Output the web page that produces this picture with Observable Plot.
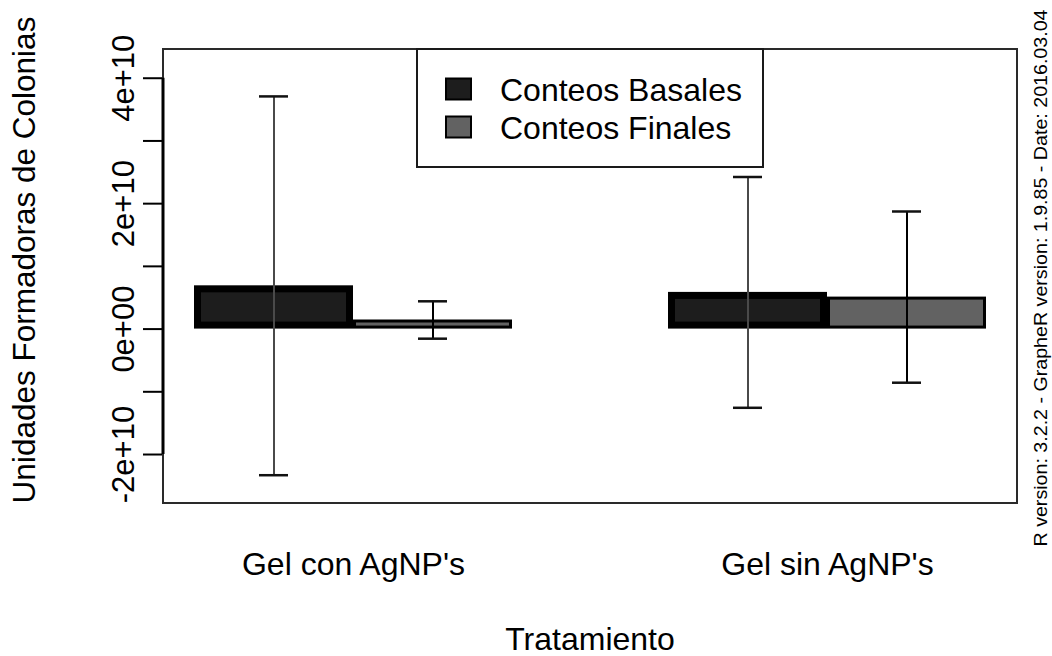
<!DOCTYPE html>
<html>
<head>
<meta charset="utf-8">
<script src="https://cdn.jsdelivr.net/npm/d3@7"></script>
<script src="https://cdn.jsdelivr.net/npm/@observablehq/plot@0.6"></script>
<style>
  html, body { margin: 0; padding: 0; background: #fff; }
  #chart { width: 1052px; height: 656px; }
</style>
</head>
<body>
<div id="chart"></div>
<script>
// ---- data ----
const groups = ["Gel con AgNP's", "Gel sin AgNP's"];
const series = ["Conteos Basales", "Conteos Finales"];
const basalMeans = [6.9e9, 5.85e9];
const finalMeans = [1.45e9, 5.1e9];
const basalErr = [3.02e10, 1.84e10];
const finalErr = [2.98e9, 1.365e10];
const yTicks = [-2e10, -1e10, 0, 1e10, 2e10, 3e10, 4e10];
const yTickLabels = ["-2e+10", "", "0e+00", "", "2e+10", "", "4e+10"];
const seriesFills = ["#1d1d1d", "#626262"];
const errStemColors = ["#4a4a4a", "#000000"];
const xTitle = "Tratamiento";
const yTitle = "Unidades Formadoras de Colonias";
const sideNote = "R version: 3.2.2 - GrapheR version: 1.9.85 - Date: 2016.03.04";

const basalRows = groups.map((g, i) => ({group: g, series: series[0], value: basalMeans[i], err: basalErr[i]}));
const finalRows = groups.map((g, i) => ({group: g, series: series[1], value: finalMeans[i], err: finalErr[i]}));
const rows = basalRows.concat(finalRows);
const tickRows = yTicks.map((v, i) => ({value: v, label: yTickLabels[i]})).filter(d => d.label);

const FONT = "'Liberation Sans', Arial, Helvetica, sans-serif";
const W = 1052, H = 656, ML = 163, MR = 35, MT = 49, MB = 153;
const PI = 0.3284, PO = 0.0632;

// same band layout as Plot's fx scale: offset of the first facet from the plot's left edge
const fxBand = d3.scaleBand().domain(groups).range([ML, W - MR]).paddingInner(PI).paddingOuter(PO);
const facetOffset = fxBand(groups[0]) - ML;

const chart = Plot.plot({
  width: W, height: H,
  marginLeft: ML, marginRight: MR, marginTop: MT, marginBottom: MB,
  style: {fontFamily: FONT, background: "#fff", color: "#000"},
  fx: {domain: groups, paddingInner: PI, paddingOuter: PO, axis: null, label: null},
  x: {domain: series, padding: 0, axis: null},
  y: {domain: [-2.781e10, 4.458e10], axis: null},
  color: {domain: series, range: seriesFills},
  marks: [
    Plot.barY(basalRows, {fx: "group", x: "series", y: "value", fill: "series", stroke: "#000", strokeWidth: 7, inset: 3.5}),
    Plot.barY(finalRows, {fx: "group", x: "series", y: "value", fill: "series", stroke: "#000", strokeWidth: 3, inset: 1.5}),
    Plot.ruleX(rows, {fx: "group", x: "series", y1: d => d.value - d.err, y2: d => d.value + d.err,
      stroke: d => errStemColors[series.indexOf(d.series)], strokeWidth: 2}),
    Plot.tickY(rows, {fx: "group", x: "series", y: d => d.value + d.err, stroke: "#111", strokeWidth: 2.5, insetLeft: 65, insetRight: 65}),
    Plot.tickY(rows, {fx: "group", x: "series", y: d => d.value - d.err, stroke: "#111", strokeWidth: 2.5, insetLeft: 65, insetRight: 65}),
    // y axis ticks (labels drawn separately, rotated like R's)
    Plot.axisY({anchor: "left", ticks: yTicks, tickSize: 21, tickFormat: () => "",
      strokeWidth: 2, stroke: "#000", dx: -facetOffset, label: null}),
    Plot.text(tickRows, {fx: () => groups[0], y: "value", text: "label", frameAnchor: "left",
      dx: -facetOffset - 40, rotate: -90, fontSize: 31, fill: "#000", textAnchor: "middle", lineAnchor: "middle"}),
    Plot.axisFx({anchor: "bottom", tickSize: 0, tickPadding: 49, fontSize: 32, fill: "#000", label: null})
  ]
});
document.getElementById("chart").appendChild(chart);

// ---- R-style decorations: axis line, box, legend, titles ----
const y = chart.scale("y");
const svg = d3.select(chart);
const g = svg.append("g").attr("font-family", FONT);
const x0 = ML, x1 = W - MR, y0 = MT, y1 = H - MB;

// plot box
g.append("rect").attr("x", x0).attr("y", y0).attr("width", x1 - x0).attr("height", y1 - y0)
  .attr("fill", "none").attr("stroke", "#2a2a2a").attr("stroke-width", 2);
// y axis line spanning the ticks
g.append("line").attr("x1", x0).attr("x2", x0)
  .attr("y1", y.apply(yTicks[0])).attr("y2", y.apply(yTicks[yTicks.length - 1]))
  .attr("stroke", "#000").attr("stroke-width", 3);

// legend (top, centred on the plot region)
const legW = 346, legH = 118, legX = (x0 + x1) / 2 - legW / 2, legY = y0;
const lg = g.append("g");
lg.append("rect").attr("x", legX).attr("y", legY).attr("width", legW).attr("height", legH)
  .attr("fill", "#fff").attr("stroke", "#1a1a1a").attr("stroke-width", 2);
series.forEach((s, i) => {
  const cy = legY + 40 + i * 38;
  lg.append("rect").attr("x", legX + 29).attr("y", cy - 10.5).attr("width", 25).attr("height", 21)
    .attr("fill", seriesFills[i]).attr("stroke", "#000").attr("stroke-width", 2);
  lg.append("text").attr("x", legX + 83).attr("y", cy + 12).attr("font-size", 32)
    .attr("text-anchor", "start").attr("fill", "#000").text(s);
});

// axis titles
g.append("text").attr("x", (x0 + x1) / 2).attr("y", 650).attr("text-anchor", "middle")
  .attr("font-size", 32).attr("fill", "#000").text(xTitle);
g.append("text").attr("transform", "translate(35,260) rotate(-90)").attr("text-anchor", "middle")
  .attr("font-size", 31.5).attr("fill", "#000").text(yTitle);
// side note
g.append("text").attr("transform", "translate(1047,278) rotate(-90)").attr("text-anchor", "middle")
  .attr("font-size", 18).attr("textLength", 537).attr("lengthAdjust", "spacingAndGlyphs")
  .attr("fill", "#000").text(sideNote);
</script>
</body>
</html>
